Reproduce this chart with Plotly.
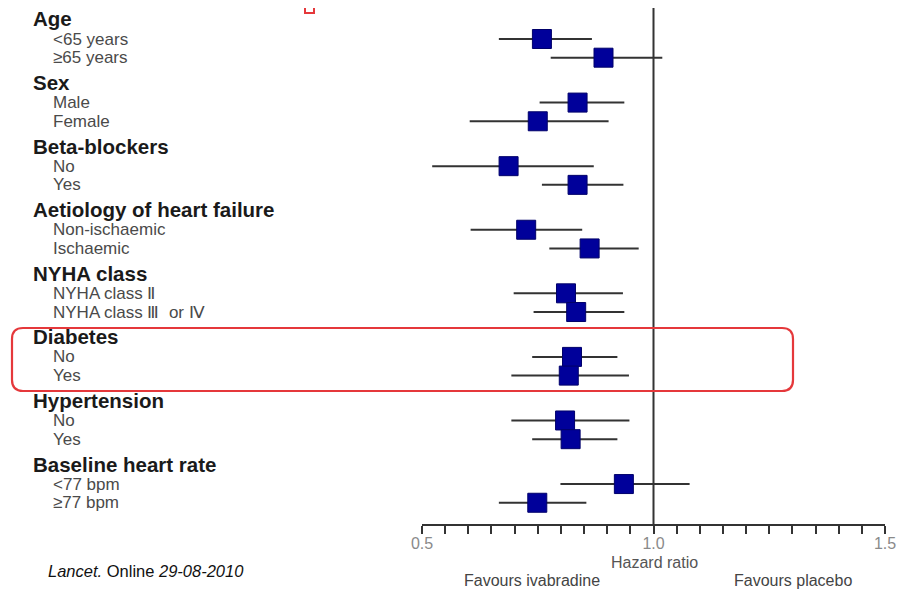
import plotly.graph_objects as go

# ---------------- data ----------------
groups = ["Age", "Sex", "Beta-blockers", "Aetiology of heart failure",
          "NYHA class", "Diabetes", "Hypertension", "Baseline heart rate"]
subgroups = [
    ["<65 years", "≥65 years"],
    ["Male", "Female"],
    ["No", "Yes"],
    ["Non-ischaemic", "Ischaemic"],
    ["NYHA class Ⅱ", "NYHA class Ⅲ  or Ⅳ"],
    ["No", "Yes"],
    ["No", "Yes"],
    ["<77 bpm", "≥77 bpm"],
]
hazard_ratio = [0.759, 0.892, 0.836, 0.750, 0.687, 0.836, 0.725, 0.862,
                0.811, 0.833, 0.824, 0.817, 0.809, 0.821, 0.936, 0.749]
ci_lower = [0.666, 0.778, 0.754, 0.603, 0.522, 0.759, 0.605, 0.775,
            0.698, 0.741, 0.738, 0.693, 0.693, 0.738, 0.799, 0.666]
ci_upper = [0.867, 1.019, 0.937, 0.903, 0.871, 0.935, 0.846, 0.968,
            0.934, 0.937, 0.922, 0.947, 0.948, 0.922, 1.078, 0.855]
x_ticks = [0.5, 1.0, 1.5]
x_tick_labels = ["0.5", "1.0", "1.5"]

# ---------------- layout helpers ----------------
OFF = 8                      # page body margin offset
W, H = 922 - OFF, 591 - OFF
L = 422 - OFF
R = W - (885 - OFF)
T = 0
PH = 524 - OFF
B = H - PH
PW = W - L - R
GROUP = 3.4          # rows per group block
HEAD_OFF = 1.07      # heading above first item
PX_PER_UNIT = 18.7
FIRST_PX = 39 - OFF
y_top = -FIRST_PX / PX_PER_UNIT
y_bot = (PH - FIRST_PX) / PX_PER_UNIT

def px_x(px):
    return (px - OFF - L) / PW

def px_y(py):
    return (PH - (py - OFF)) / PH

row_y = []
for g in range(len(groups)):
    for k in range(2):
        row_y.append(g * GROUP + k)

fig = go.Figure()
fig.add_trace(go.Scatter(
    x=hazard_ratio, y=row_y, mode="markers",
    marker=dict(symbol="square", size=19, color="#00009a",
                line=dict(color="#00006a", width=1)),
    error_x=dict(type="data", symmetric=False,
                 array=[u - h for u, h in zip(ci_upper, hazard_ratio)],
                 arrayminus=[h - l for h, l in zip(hazard_ratio, ci_lower)],
                 color="#333333", thickness=2, width=0),
    showlegend=False, hoverinfo="skip",
))

font_fam = "Liberation Sans, Arial, sans-serif"
ann = []
for g, name in enumerate(groups):
    ann.append(dict(text="<b>%s</b>" % name, xref="paper", yref="y",
                    x=px_x(31), y=g * GROUP - HEAD_OFF, xanchor="left", yanchor="middle",
                    showarrow=False, font=dict(family=font_fam, size=20.5, color="#1a1a1a")))
    for k, s in enumerate(subgroups[g]):
        ann.append(dict(text=s, xref="paper", yref="y",
                        x=px_x(51), y=g * GROUP + k, xanchor="left", yanchor="middle",
                        showarrow=False, font=dict(family=font_fam, size=17, color="#4a4a4a")))

ann += [
    dict(text="Hazard ratio", xref="paper", yref="paper", x=px_x(654), y=px_y(562),
         xanchor="center", yanchor="middle", showarrow=False,
         font=dict(family=font_fam, size=16, color="#555555")),
    dict(text="Favours ivabradine", xref="paper", yref="paper", x=px_x(532), y=px_y(580),
         xanchor="center", yanchor="middle", showarrow=False,
         font=dict(family=font_fam, size=16, color="#444444")),
    dict(text="Favours placebo", xref="paper", yref="paper", x=px_x(793), y=px_y(580),
         xanchor="center", yanchor="middle", showarrow=False,
         font=dict(family=font_fam, size=16, color="#444444")),
    dict(text="<i>Lancet.</i> Online <i>29-08-2010</i>", xref="paper", yref="paper",
         x=px_x(46), y=px_y(571), xanchor="left", yanchor="middle", showarrow=False,
         font=dict(family=font_fam, size=16.5, color="#111111")),
]

# red rounded highlight box around Diabetes
bx0, bx1, by0, by1, r = 12, 793, 328, 391, 11
def rr_path(x0, y0, x1, y1, r):
    def P(px, py):
        return "%f,%f" % (px_x(px), px_y(py))
    return ("M " + P(x0 + r, y0) + " L " + P(x1 - r, y0) +
            " Q " + P(x1, y0) + " " + P(x1, y0 + r) +
            " L " + P(x1, y1 - r) + " Q " + P(x1, y1) + " " + P(x1 - r, y1) +
            " L " + P(x0 + r, y1) + " Q " + P(x0, y1) + " " + P(x0, y1 - r) +
            " L " + P(x0, y0 + r) + " Q " + P(x0, y0) + " " + P(x0 + r, y0) + " Z")

shapes = [
    dict(type="line", xref="x", yref="paper", x0=1.0, x1=1.0, y0=0, y1=1,
         line=dict(color="#333333", width=2)),
    dict(type="path", xref="paper", yref="paper", path=rr_path(bx0, by0, bx1, by1, r),
         line=dict(color="#e5383b", width=2.2)),
    dict(type="rect", xref="paper", yref="paper", x0=px_x(305), x1=px_x(314),
         y0=px_y(13), y1=px_y(6), line=dict(color="#e5383b", width=2)),
]

fig.update_layout(
    width=W, height=H, margin=dict(l=L, r=R, t=T, b=B),
    paper_bgcolor="white", plot_bgcolor="white",
    annotations=ann, shapes=shapes,
    xaxis=dict(range=[0.5, 1.5], showgrid=False, zeroline=False,
               showline=True, linecolor="#333333", linewidth=2,
               ticks="outside", ticklen=8, tickwidth=2, tickcolor="#333333",
               tickvals=x_ticks, ticktext=x_tick_labels, ticklabelstandoff=-4,
               tickfont=dict(family=font_fam, size=16, color="#8a8a8a"),
               minor=dict(dtick=0.05, tick0=0.5, ticks="outside", ticklen=8,
                          tickwidth=2, tickcolor="#333333", showgrid=False)),
    yaxis=dict(range=[y_bot, y_top], visible=False, showgrid=False, zeroline=False),
)

fig.write_html("out.html")
